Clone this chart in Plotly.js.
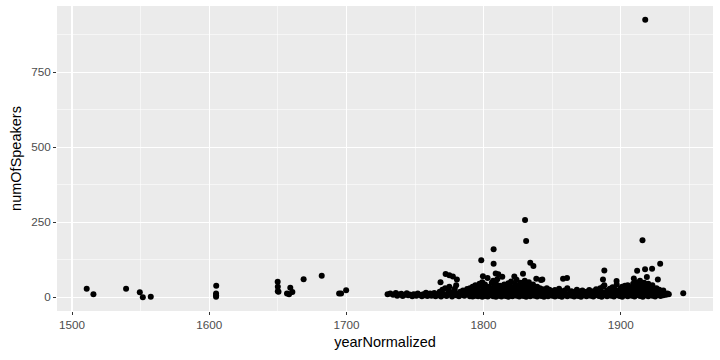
<!DOCTYPE html>
<html>
<head>
<meta charset="utf-8">
<script src="https://cdn.plot.ly/plotly-3.0.1.min.js"></script>
<style>html,body{margin:0;padding:0;background:#fff;}#chart{width:720px;height:360px;}</style>
</head>
<body>
<div id="chart"></div>
<script>
// Sparse early points and outliers
const outlierYears = [1510.7,1515.6,1539.4,1549.4,1551.6,1557.4,1605.1,1605,1605,1605,1649.9,1650,1650,1650.5,1656.7,1658.2,1659.1,1660.6,1668.8,1682,1694.7,1696.1,1699.8,
  1917.8,1830.2,1831,1807.3,1798.3,1807.3,1834,1836.3,1915.8,1928.7,1917.7,1922.8,1911.9,1888,1927,1887,1896.9,1909.5,1919,1945.5,
  1772.3,1775,1777.6,1780.5,1768.6,1802.9,1799.5,1808.8,1810.7,1813.6,1822.4,1828.7,1838.4,1842.8,1841.8,1857.9,1860.8];
const outlierSpeakers = [28,10,28,16,0,1,38,12,6,1,51,35,20,18,12,10,31,17,60,71,12,12,23,
  925,257,187,160,123,111,115,104,190,111,93,95,88,89,59,59,54,62,67,13,
  77,73,69,59,50,64,70,79,76,68,69,78,61,59,57,61,64];

// Dense cluster 1730-1935
const clusterYears = [
  1730,1732,1734,1736,1737,1738,1740,1741,1742,1744,1745,1746,1748,1749,1750,1751,1752,1754,1755,1756,1757,1758,1759,1760,
  1761,1762,1763,1764,1765,1766,1767,1768,1769,1770,1770,1771,1772,1773,1774,1775,1775,1776,1777,1778,1779,1780,1780,1781,1782,1783,1784,1785,1786,1787,1788,1789,1790,
  1790,1790,1791,1791,1792,1792,1793,1793,1794,1794,1794,1795,1795,1796,1796,1797,1797,1798,1798,1799,1799,1799,
  1800,1800,1801,1801,1801,1802,1802,1803,1803,1804,1804,1805,1805,1806,1806,1807,1807,1807,1808,1808,1808,1809,1809,1809,
  1810,1810,1810,1811,1811,1812,1812,1813,1813,1814,1814,1815,1815,1816,1816,1817,1817,1818,1818,1818,1819,1819,
  1820,1820,1820,1821,1821,1822,1822,1823,1823,1824,1824,1824,1825,1825,1826,1826,1827,1827,1827,1828,1828,1829,1829,
  1830,1830,1830,1831,1831,1831,1832,1832,1833,1833,1833,1834,1834,1835,1835,1836,1836,1837,1837,1838,1838,1839,1839,
  1840,1840,1841,1841,1842,1842,1843,1843,1844,1844,1845,1845,1846,1846,1847,1847,1848,1848,1849,1850,1850,
  1851,1852,1852,1853,1854,1855,1855,1856,1857,1857,1858,1859,1859,1860,1861,1861,1862,1863,1864,1864,1865,1866,1866,1867,1868,1868,1869,1870,1870,
  1871,1872,1872,1873,1874,1875,1875,1876,1877,1877,1878,1879,1880,1880,1881,1882,1882,1883,1884,1885,1885,1886,1886,1887,1887,1888,1888,1889,1890,1890,
  1891,1892,1892,1893,1894,1894,1895,1896,1896,1897,1897,1898,1899,1899,1900,1900,
  1901,1901,1901,1902,1902,1903,1903,1904,1905,1905,1905,1906,1906,1907,1907,1908,1908,1909,1909,1910,1910,
  1911,1911,1911,1912,1912,1913,1913,1914,1914,1914,1915,1915,1915,1916,1916,1917,1917,1917,1918,1918,1918,1919,1919,1920,1920,1920,
  1921,1921,1922,1922,1923,1923,1923,1924,1925,1925,1926,1926,1927,1927,1928,1928,1929,1929,1930,1930,1931,1931,1932,1933,1934,1935];
const clusterSpeakers = [
  10,12,8,14,5,9,11,4,7,13,6,9,3,10,8,5,12,7,3,10,6,15,4,9,
  12,5,8,14,3,10,6,18,2,11,25,7,30,4,14,20,35,9,2,16,28,6,40,12,3,18,8,22,5,14,27,10,3,
  15,30,8,22,2,35,12,28,5,18,40,10,25,3,33,14,45,7,20,1,38,50,
  12,27,4,18,42,9,30,2,22,15,35,6,25,11,48,3,20,55,8,30,40,1,17,45,
  13,33,60,5,24,10,38,2,19,7,28,12,42,4,22,9,31,1,15,46,6,26,
  11,35,52,3,20,8,30,13,44,5,24,58,10,36,2,18,7,28,48,12,40,4,22,
  9,33,55,1,16,44,6,27,11,38,50,3,21,8,30,13,42,5,19,10,28,2,35,
  7,23,12,30,4,18,9,26,1,14,6,22,11,30,3,17,8,25,13,5,20,
  10,2,24,7,15,4,28,9,1,18,12,6,22,11,3,30,8,14,5,20,10,2,16,7,13,25,4,9,19,
  1,12,22,6,15,3,18,8,11,24,5,14,2,20,10,7,26,13,4,9,30,1,17,12,35,6,40,15,3,22,
  8,11,28,5,14,33,2,10,25,7,42,13,4,20,9,30,
  1,16,35,12,24,6,38,15,3,21,40,8,28,11,33,5,19,14,45,2,25,
  10,36,50,7,22,13,40,4,30,55,9,18,42,1,27,12,35,48,6,20,38,15,30,3,24,45,
  8,33,11,19,5,28,40,14,2,22,10,30,7,18,13,25,4,20,9,15,6,22,11,8,12,10];

const xTickVals = [1500,1600,1700,1800,1900];
const yTickVals = [0,250,500,750];

const trace = {
  type: 'scatter', mode: 'markers',
  x: outlierYears.concat(clusterYears),
  y: outlierSpeakers.concat(clusterSpeakers),
  marker: {color: '#000000', size: 6, line: {width: 0}},
  hoverinfo: 'x+y'
};

const axisCommon = {
  showline: false, zeroline: false,
  showgrid: true, gridcolor: '#FFFFFF', gridwidth: 1.1,
  ticks: 'outside', ticklen: 3, tickwidth: 1, tickcolor: '#333333',
  tickfont: {family: 'Liberation Sans, Arial, sans-serif', size: 11.7, color: '#4D4D4D'}
};

const layout = {
  width: 720, height: 360,
  margin: {l: 57, r: 7, t: 6, b: 49},
  paper_bgcolor: '#FFFFFF', plot_bgcolor: '#EBEBEB',
  showlegend: false,
  xaxis: Object.assign({}, axisCommon, {
    range: [1489.05, 1967.2],
    tickmode: 'array', tickvals: xTickVals, ticktext: xTickVals.map(String),
    minor: {tickmode: 'array', tickvals: [1550,1650,1750,1850,1950], showgrid: true, gridcolor: '#FFFFFF', gridwidth: 0.55, ticks: ''},
    title: {text: 'yearNormalized', font: {family: 'Liberation Sans, Arial, sans-serif', size: 14.5, color: '#000000'}, standoff: 6}
  }),
  yaxis: Object.assign({}, axisCommon, {
    range: [-46.25, 971.25],
    tickmode: 'array', tickvals: yTickVals, ticktext: yTickVals.map(String),
    minor: {tickmode: 'array', tickvals: [125,375,625,875], showgrid: true, gridcolor: '#FFFFFF', gridwidth: 0.55, ticks: ''},
    title: {text: 'numOfSpeakers', font: {family: 'Liberation Sans, Arial, sans-serif', size: 14.5, color: '#000000'}, standoff: 6}
  })
};

Plotly.newPlot('chart', [trace], layout, {displayModeBar: false, staticPlot: true});
</script>
</body>
</html>
